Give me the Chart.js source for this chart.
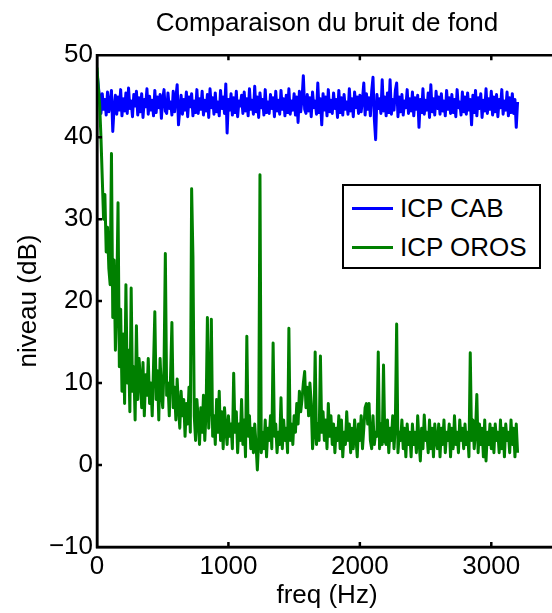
<!DOCTYPE html>
<html>
<head>
<meta charset="utf-8">
<script src="https://cdn.jsdelivr.net/npm/chart.js@4/dist/chart.umd.min.js"></script>
<style>
  html, body { margin: 0; padding: 0; background: #fff; overflow: hidden; }
  #wrap { position: relative; width: 552px; height: 613px; overflow: hidden; }
  #legend {
    position: absolute; left: 342px; top: 184px; width: 199px; height: 85px;
    box-sizing: border-box; border: 2.5px solid #000; background: #fff;
    font-family: "Liberation Sans", Arial, sans-serif; font-size: 26px; color: #000;
  }
  #legend .row { position: absolute; left: 0; height: 31px; line-height: 31px; white-space: nowrap; }
  #legend .swatch { position: absolute; left: 8px; top: 14px; width: 41px; height: 3px; }
  #legend .txt { position: absolute; left: 56px; top: 0; }
</style>
</head>
<body>
<div id="wrap">
  <canvas id="chartBruit" width="654" height="613"></canvas>
  <div id="legend"></div>
</div>
<script>
const freqHz = [
  0, 10, 20, 30, 40, 50, 60, 70, 80, 90, 100, 110, 120, 130, 140, 150, 160, 170, 180, 190,
  200, 210, 220, 230, 240, 250, 260, 270, 280, 290, 300, 310, 320, 330, 340, 350, 360, 370, 380, 390,
  400, 410, 420, 430, 440, 450, 460, 470, 480, 490, 500, 510, 520, 530, 540, 550, 560, 570, 580, 590,
  600, 610, 620, 630, 640, 650, 660, 670, 680, 690, 700, 710, 720, 730, 740, 750, 760, 770, 780, 790,
  800, 810, 820, 830, 840, 850, 860, 870, 880, 890, 900, 910, 920, 930, 940, 950, 960, 970, 980, 990,
  1000, 1010, 1020, 1030, 1040, 1050, 1060, 1070, 1080, 1090, 1100, 1110, 1120, 1130, 1140, 1150, 1160, 1170, 1180, 1190,
  1200, 1210, 1220, 1230, 1240, 1250, 1260, 1270, 1280, 1290, 1300, 1310, 1320, 1330, 1340, 1350, 1360, 1370, 1380, 1390,
  1400, 1410, 1420, 1430, 1440, 1450, 1460, 1470, 1480, 1490, 1500, 1510, 1520, 1530, 1540, 1550, 1560, 1570, 1580, 1590,
  1600, 1610, 1620, 1630, 1640, 1650, 1660, 1670, 1680, 1690, 1700, 1710, 1720, 1730, 1740, 1750, 1760, 1770, 1780, 1790,
  1800, 1810, 1820, 1830, 1840, 1850, 1860, 1870, 1880, 1890, 1900, 1910, 1920, 1930, 1940, 1950, 1960, 1970, 1980, 1990,
  2000, 2010, 2020, 2030, 2040, 2050, 2060, 2070, 2080, 2090, 2100, 2110, 2120, 2130, 2140, 2150, 2160, 2170, 2180, 2190,
  2200, 2210, 2220, 2230, 2240, 2250, 2260, 2270, 2280, 2290, 2300, 2310, 2320, 2330, 2340, 2350, 2360, 2370, 2380, 2390,
  2400, 2410, 2420, 2430, 2440, 2450, 2460, 2470, 2480, 2490, 2500, 2510, 2520, 2530, 2540, 2550, 2560, 2570, 2580, 2590,
  2600, 2610, 2620, 2630, 2640, 2650, 2660, 2670, 2680, 2690, 2700, 2710, 2720, 2730, 2740, 2750, 2760, 2770, 2780, 2790,
  2800, 2810, 2820, 2830, 2840, 2850, 2860, 2870, 2880, 2890, 2900, 2910, 2920, 2930, 2940, 2950, 2960, 2970, 2980, 2990,
  3000, 3010, 3020, 3030, 3040, 3050, 3060, 3070, 3080, 3090, 3100, 3110, 3120, 3130, 3140, 3150, 3160, 3170, 3180, 3190,
  3200
];

// niveau (dB), capteur ICP CAB
const icpCab = [
  48, 46.2, 44.8, 42.9, 45.3, 43.4, 44.6, 42.7, 45.5, 43.1, 44.2, 45.7, 40.7, 43.6, 45.1, 42.8, 44.9, 43.3, 45.8, 42.6,
  44.7, 43.2, 45.4, 42.9, 46.0, 43.5, 44.4, 42.5, 45.2, 43.8, 45.6, 42.7, 44.8, 43.1, 45.3, 42.4, 44.6, 43.7, 45.9, 42.8,
  45.0, 43.3, 44.5, 42.6, 45.7, 43.0, 44.9, 43.6, 45.2, 42.3, 44.7, 45.8, 43.2, 42.9, 45.4, 43.5, 44.3, 42.7, 45.6, 43.1,
  44.8, 46.4, 41.5, 43.4, 45.1, 42.8, 44.6, 43.3, 45.5, 42.5, 44.9, 43.7, 45.3, 42.6, 44.4, 43.0, 45.8, 42.9, 44.7, 43.4,
  45.6, 42.7, 44.5, 43.2, 45.2, 42.4, 45.9, 43.6, 44.8, 42.8, 45.4, 43.1, 44.3, 42.6, 45.7, 43.5, 44.9, 42.9, 46.5, 40.5,
  44.6, 43.3, 45.3, 42.7, 44.8, 43.0, 45.6, 42.5, 44.4, 43.8, 45.1, 42.9, 45.5, 43.2, 44.7, 42.6, 45.9, 43.4, 44.5, 42.8,
  46.2, 43.1, 44.9, 42.4, 45.4, 43.6, 44.6, 42.7, 45.8, 43.0, 44.3, 42.9, 45.2, 43.5, 44.8, 42.5, 45.6, 43.2, 44.5, 42.8,
  45.7, 43.4, 44.7, 42.6, 45.1, 43.0, 45.9, 42.8, 44.4, 43.3, 45.3, 42.7, 44.9, 41.8, 45.6, 43.1, 44.6, 47.5, 43.4, 42.9,
  45.2, 43.2, 44.8, 42.5, 45.5, 43.6, 44.4, 42.8, 46.6, 43.0, 44.7, 41.5, 45.3, 43.3, 44.9, 42.6, 45.8, 43.1, 44.5, 42.9,
  45.4, 43.5, 44.6, 42.4, 45.7, 43.0, 44.8, 42.7, 45.2, 43.4, 44.3, 42.8, 45.9, 43.2, 44.7, 42.5, 45.5, 43.6, 44.9, 42.9,
  45.1, 43.1, 44.6, 46.6, 42.7, 45.3, 43.4, 44.8, 42.6, 45.6, 47.3, 42.3, 39.7, 45.2, 43.5, 44.7, 42.9, 47.0, 43.2, 44.9,
  42.6, 45.4, 43.0, 47.0, 42.8, 44.6, 43.3, 45.7, 46.6, 42.5, 44.9, 43.1, 45.2, 42.7, 44.4, 43.6, 45.8, 42.9, 44.7, 43.2,
  45.5, 42.6, 44.8, 43.4, 45.1, 41.2, 44.6, 43.0, 45.9, 42.8, 44.5, 43.3, 45.4, 42.4, 46.4, 43.1, 44.7, 42.7, 45.6, 43.5,
  44.9, 42.8, 45.3, 43.2, 44.4, 42.6, 45.7, 43.4, 44.8, 42.9, 45.2, 43.0, 44.6, 42.5, 45.8, 43.6, 44.3, 42.7, 45.5, 43.1,
  44.9, 42.8, 45.4, 43.3, 44.6, 41.5, 45.1, 43.0, 45.7, 42.6, 44.8, 43.5, 45.3, 42.4, 44.5, 43.2, 45.9, 42.9, 44.7, 43.4,
  45.6, 42.7, 44.9, 43.1, 45.2, 42.5, 44.6, 43.6, 45.8, 42.8, 44.4, 43.3, 45.5, 42.6, 44.8, 43.0, 45.3, 42.9, 44.6, 41.2,
  44.3
];

// niveau (dB), capteur ICP OROS
const icpOros = [
  48.5, 46, 44, 40, 35, 30, 33, 26, 29, 24, 22, 38, 18, 25, 14, 20, 32, 12, 19, 9,
  16, 7.5, 22, 10, 14, 6.5, 21.6, 9, 12, 5.5, 17, 8, 13, 10.5, 7, 12.5, 6, 11, 8.5, 13,
  7.5, 10, 6, 12, 18.7, 8, 11.5, 5.5, 13, 9, 7, 12, 25.8, 8.5, 10, 6, 11, 17.4, 7, 9.5,
  5.5, 10.5, 7, 4.5, 9, 6, 8, 3.5, 7.5, 5, 9.5, 4, 33.7, 25.4, 6, 3, 8, 5.5, 2.5, 7,
  4, 8.5, 3, 6.5, 18, 4.5, 7.5, 17.8, 3.5, 6, 2.5, 8, 4, 9, 3, 6.5, 2, 7, 4.5, 2.5,
  6, 3.5, 5, 2, 11.2, 4, 6.5, 1.5, 5, 3, 8, 2.5, 5.5, 1, 15.7, 3.5, 6, 2, 4.5, 1.5,
  5, 2.5, -0.6, 3, 35.4, 1.5, 4, 2, 5.5, 1, 4.5, 3, 6, 2, 14.9, 3.5, 5, 1.5, 4, 2.5,
  8.2, 2, 5.5, 3, 4.5, 1.5, 16.7, 3, 5, 2.5, 6, 4, 7.5, 5, 9, 6.5, 8, 10, 11.4, 7,
  9.5, 6, 10, 7.5, 2, 4, 13.8, 2.5, 5, 3, 13.3, 4, 6.5, 3, 5.5, 2, 7.5, 3.5, 6, 2.5,
  5, 1.5, 4.5, 3, 6, 2, 5.5, 1, 4, 2.5, 6.5, 3, 5, 1.5, 4.5, 2, 5.5, 3.5, 1, 5,
  3, 6, 2, 4.5, 7, 7.5, 5, 7.5, 3, 2, 6, 2.5, 4, 3.5, 13.8, 2, 5, 2.5, 12.2, 3,
  2.5, 5.5, 1.5, 4.5, 3, 6, 2, 5, 17.2, 1.5, 4, 3, 5.5, 2, 4.5, 1, 5, 2.5, 4, 1,
  5, 2.5, 4, 1.5, 6, 3, 0.5, 4.5, 2, 6.1, 3, 4, 1.5, 5.5, 2, 4.5, 1, 5, 3, 2,
  5, 1, 4.5, 2.5, 5.5, 1.5, 4, 3, 5, 1, 4.5, 2, 6, 2.5, 4, 1.5, 5.5, 3, 4.5, 2,
  5, 2.5, 4, 1, 13.7, 3, 5.5, 2, 4, 8.6, 1.5, 5, 2.5, 4.5, 1, 5.5, 0.5, 4, 2.5, 5,
  2, 4.5, 1.5, 5, 3, 4, 1.5, 5.5, 2, 4.5, 1, 5, 3, 4, 1.5, 5.5, 2.5, 4.5, 1, 5,
  1.5
];

const xTicks = [0, 1000, 2000, 3000];
const yTicks = [-10, 0, 10, 20, 30, 40, 50];

const toPoints = (vals) => vals.map((v, i) => ({ x: freqHz[i], y: v }));

Chart.defaults.font.family = '"Liberation Sans", Arial, Helvetica, sans-serif';
Chart.defaults.color = "#000";

// cadre et graduations vers l'intérieur (style MATLAB)
const cadre = {
  id: "cadre",
  afterDatasetsDraw(chart) {
    const { ctx, chartArea: a, scales: { x, y } } = chart;
    ctx.save();
    ctx.strokeStyle = "#000";
    ctx.lineWidth = 2.5;
    ctx.beginPath();
    ctx.moveTo(a.right, a.top);
    ctx.lineTo(a.left, a.top);
    ctx.lineTo(a.left, a.bottom);
    ctx.lineTo(a.right, a.bottom);
    xTicks.forEach(v => {
      const px = x.getPixelForValue(v);
      ctx.moveTo(px, a.bottom); ctx.lineTo(px, a.bottom - 5);
      ctx.moveTo(px, a.top); ctx.lineTo(px, a.top + 5);
    });
    yTicks.forEach(v => {
      const py = y.getPixelForValue(v);
      ctx.moveTo(a.left, py); ctx.lineTo(a.left + 5, py);
      ctx.moveTo(a.right, py); ctx.lineTo(a.right - 5, py);
    });
    ctx.stroke();
    ctx.restore();
  }
};

const chart = new Chart(document.getElementById("chartBruit"), {
  type: "line",
  data: {
    datasets: [
      {
        label: "ICP CAB",
        data: toPoints(icpCab),
        borderColor: "#0000ff",
        borderWidth: 3,
        pointRadius: 0,
        tension: 0,
        borderJoinStyle: "round",
        order: 1
      },
      {
        label: "ICP OROS",
        data: toPoints(icpOros),
        borderColor: "#008000",
        borderWidth: 3,
        pointRadius: 0,
        tension: 0,
        borderJoinStyle: "round",
        order: 0
      }
    ]
  },
  options: {
    responsive: false,
    animation: false,
    devicePixelRatio: 1,
    layout: { padding: { left: 0, right: 97, top: 0, bottom: 0 } },
    plugins: {
      legend: { display: false },
      tooltip: { enabled: false },
      title: {
        display: true,
        fullSize: false,
        text: "Comparaison du bruit de fond",
        font: { size: 26, weight: "normal" },
        color: "#000",
        padding: { top: 8, bottom: 16 }
      }
    },
    scales: {
      x: {
        type: "linear",
        min: 0,
        max: 3500,
        grid: { display: false, drawTicks: false },
        border: { display: true, color: "#000", width: 2.5 },
        afterBuildTicks: (s) => { s.ticks = xTicks.map(v => ({ value: v })); },
        afterFit: (s) => { s.height = 66; },
        ticks: {
          font: { size: 26 },
          padding: 4,
          maxRotation: 0,
          autoSkip: false,
          callback: (v) => String(v)
        },
        title: { display: true, text: "freq (Hz)", font: { size: 26 }, padding: { top: 0, bottom: 2 } }
      },
      y: {
        min: -10,
        max: 50,
        grid: { display: false, drawTicks: false },
        border: { display: true, color: "#000", width: 2.5 },
        afterBuildTicks: (s) => { s.ticks = yTicks.map(v => ({ value: v })); },
        afterFit: (s) => { s.width = 97; },
        ticks: {
          font: { size: 26 },
          padding: 4,
          callback: (v) => (v < 0 ? "\u2212" + Math.abs(v) : String(v))
        },
        title: { display: true, text: "niveau (dB)", font: { size: 26 }, padding: { top: 13, bottom: 0 } }
      }
    }
  },
  plugins: [cadre]
});

// légende encadrée, construite depuis les jeux de données
const leg = document.getElementById("legend");
chart.data.datasets.forEach((ds, i) => {
  const row = document.createElement("div");
  row.className = "row";
  row.style.top = (7 + i * 39) + "px";
  row.innerHTML = '<span class="swatch" style="background:' + ds.borderColor + '"></span>' +
    '<span class="txt">' + ds.label + "</span>";
  leg.appendChild(row);
});
</script>
</body>
</html>
